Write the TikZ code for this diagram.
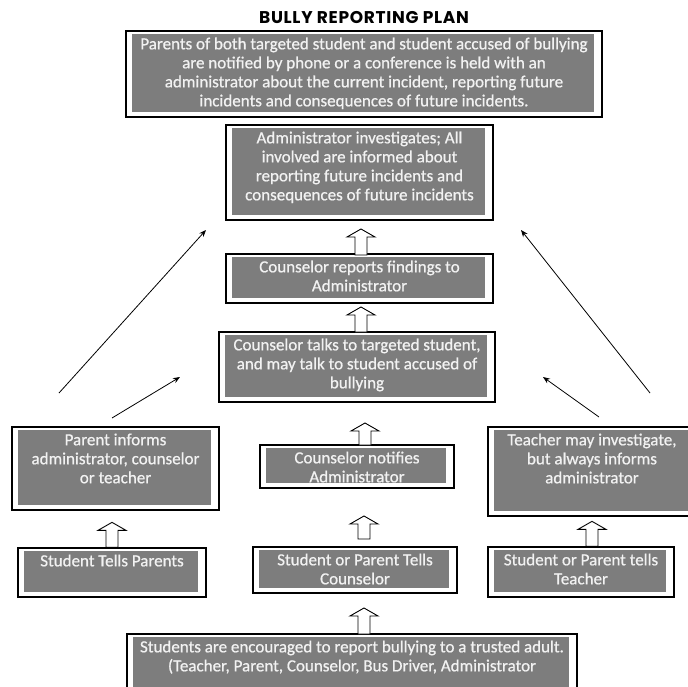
\documentclass[tikz,border=0pt]{standalone}
\usepackage{fontspec}
\setmainfont{Carlito}
\newfontfamily\boxfont{Carlito}[FakeBold=0.7]
\newfontfamily\titlefont{Poppins}[LetterSpace=4]
\usetikzlibrary{calc,arrows.meta}
\definecolor{boxgray}{RGB}{125,125,125}
\definecolor{boxtext}{RGB}{242,242,242}
\tikzset{
	frame/.style={draw=black, line width=1.3pt, fill=white, inner sep=0pt},
	txt/.style={text=boxtext, font=\boxfont\fontsize{17}{19}\selectfont, align=center, anchor=north, inner sep=0pt},
	hollow/.style={draw=black, line width=0.9pt, fill=white, line join=miter},
	thinarrow/.style={line width=0.8pt, -{Stealth[length=7pt, width=5.5pt]}}
}
% framed grey box: name, top left, bottom right, text
\def\planbox(#1)(#2,#3)(#4,#5)#6{%
	\node[frame, minimum width=#4-#2, minimum height=#5-#3] (#1) at ({(#2+#4)/2}, {(#3+#5)/2}) {};
	\fill[boxgray] ($(#1.north west)+(7,4)$) rectangle ($(#1.south east)+(-9,-6)$);
	\node[txt] (#1-text) at ($(#1.north)+(0,7)$) {#6};
}
% open block arrow pointing up, base at #1, length #2
\def\hollowup(#1)#2{\draw[hollow] ($(#1)+(-6,0)$) -- ++(0,-#2+8) -- ++(-8,0) -- ++(14,-8) -- ++(14,8) -- ++(-8,0) -- ++(0,#2-8) -- cycle;}

\begin{document}
\begin{tikzpicture}[x=1pt, y=-1pt]
			%%%%% START %%%%%
			\useasboundingbox (0,0) rectangle (688,687);
			
			\node[font=\titlefont\bfseries\fontsize{17}{19}\selectfont] (title) at (364,18) {BULLY REPORTING PLAN};
			
			\planbox(notify)(126,31)(602,117){Parents of both targeted student and student accused of bullying\\are notified by phone or a conference is held with an\\administrator about the current incident, reporting future\\incidents and consequences of future incidents.}
			\planbox(admin)(226,125)(493,220){Administrator investigates; All\\involved are informed about\\reporting future incidents and\\consequences of future incidents}
			\planbox(findings)(226,254)(493,303){Counselor reports findings to\\Administrator}
			\planbox(talks)(219,332)(495,402){Counselor talks to targeted student,\\and may talk to student accused of\\bullying}
			
			\planbox(parentinf)(12,427)(219,510){Parent informs\\administrator, counselor\\or teacher}
			\planbox(cnotify)(260,445)(454,488){Counselor notifies\\Administrator}
			\planbox(teacher)(488,427)(696,516){Teacher may investigate,\\but always informs\\administrator}
			
			\planbox(stparents)(18,548)(206,597){Student Tells Parents}
			\planbox(stcounselor)(253,547)(457,593){Student or Parent Tells\\Counselor}
			\planbox(stteacher)(488,547)(674,597){Student or Parent tells\\Teacher}
			
			\planbox(encourage)(127,634)(577,700){Students are encouraged to report bullying to a trusted adult.\\(Teacher, Parent, Counselor, Bus Driver, Administrator}
			
			% block arrows
			\hollowup(361,255){26}
			\hollowup(361,332){25}
			\hollowup(365,445){22}
			\hollowup(364,539){23}
			\hollowup(stparents.north){25}
			\hollowup(teacher.south |- stteacher.north){25}
			\hollowup(364,634){26}
			
			% thin arrows
			\coordinate (d1s) at (59,393);  \coordinate (d1e) at (206,230);
			\coordinate (d2s) at (112,418); \coordinate (d2e) at (180,377);
			\coordinate (d3s) at (599,417); \coordinate (d3e) at (543,377);
			\coordinate (d4s) at (650,393); \coordinate (d4e) at (521,230);
			\draw[thinarrow] (d1s) -- (d1e);
			\draw[thinarrow] (d2s) -- (d2e);
			\draw[thinarrow] (d3s) -- (d3e);
			\draw[thinarrow] (d4s) -- (d4e);
			
			%%%%% END %%%%%
\end{tikzpicture}
\end{document}
